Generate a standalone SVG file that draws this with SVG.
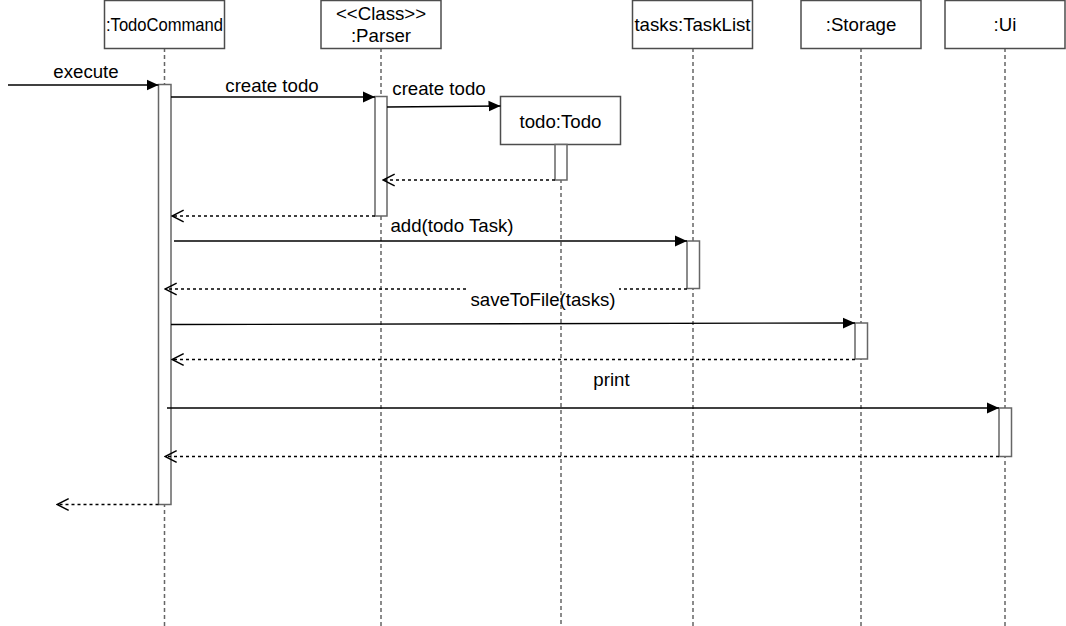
<svg xmlns="http://www.w3.org/2000/svg" width="1066" height="626" viewBox="0 0 1066 626">
<style>
  text { font-family: "Liberation Sans", Arial, Helvetica, sans-serif; font-size: 18.67px; fill: #000; }
  .box { fill: #fff; stroke: #4d4d4d; stroke-width: 1.5; }
  .bar { fill: #fff; stroke: #666; stroke-width: 1.5; }
  .life { stroke: #666; stroke-width: 1.5; stroke-dasharray: 4 3; fill: none; }
  .msg { stroke: #000; stroke-width: 1.3; fill: none; marker-end: url(#filled); }
  .ret { stroke: #000; stroke-width: 1.3; fill: none; stroke-dasharray: 3 3; }
  .reth { marker-end: url(#open); }
</style>
<defs>
  <marker id="filled" markerUnits="userSpaceOnUse" markerWidth="12" markerHeight="12" viewBox="0 0 10 9" refX="10" refY="4.5" orient="auto">
    <path d="M0,0 L10,4.5 L0,9 z" fill="#000"/>
  </marker>
  <marker id="open" markerUnits="userSpaceOnUse" markerWidth="14" markerHeight="14" viewBox="-1 -1 12 12" refX="10" refY="5" orient="auto">
    <path d="M0,0 L10,5 L0,10" fill="none" stroke="#000" stroke-width="1.3"/>
  </marker>
</defs>
<rect width="1066" height="626" fill="#fff"/>

<g id="lifelines">
  <line class="life" x1="164.5" y1="48" x2="164.5" y2="626"/>
  <line class="life" x1="381" y1="48" x2="381" y2="626"/>
  <line class="life" x1="561" y1="144" x2="561" y2="626"/>
  <line class="life" x1="693" y1="48" x2="693" y2="626"/>
  <line class="life" x1="861" y1="48" x2="861" y2="626"/>
  <line class="life" x1="1005" y1="48" x2="1005" y2="626"/>
</g>

<g id="todocommand">
  <rect class="box" x="104.5" y="0.5" width="120" height="48"/>
  <text x="164.5" y="31" text-anchor="middle" textLength="117" lengthAdjust="spacingAndGlyphs">:TodoCommand</text>
  <rect class="bar" x="158.5" y="84.5" width="12.5" height="420"/>
</g>

<g id="parser">
  <rect class="box" x="321" y="0.5" width="120" height="48"/>
  <text x="381" y="19.5" text-anchor="middle">&lt;&lt;Class&gt;&gt;</text>
  <text x="381" y="42" text-anchor="middle">:Parser</text>
  <rect class="bar" x="375" y="96.5" width="12" height="119.5"/>
</g>

<g id="todo">
  <rect class="box" x="500.5" y="96.5" width="120" height="48"/>
  <text x="560.5" y="127.5" text-anchor="middle">todo:Todo</text>
  <rect class="bar" x="555" y="144.5" width="12" height="35.5"/>
</g>

<g id="tasklist">
  <rect class="box" x="632.5" y="0.5" width="120" height="48"/>
  <text x="692.5" y="31" text-anchor="middle">tasks:TaskList</text>
  <rect class="bar" x="687" y="241" width="12.5" height="47.5"/>
</g>

<g id="storage">
  <rect class="box" x="801" y="0.5" width="120" height="48"/>
  <text x="861" y="31" text-anchor="middle">:Storage</text>
  <rect class="bar" x="855" y="323" width="12.5" height="36"/>
</g>

<g id="ui">
  <rect class="box" x="945" y="0.5" width="120" height="48"/>
  <text x="1005" y="31" text-anchor="middle">:Ui</text>
  <rect class="bar" x="999" y="408" width="12.5" height="48.5"/>
</g>

<g id="connectors">
  <line class="msg" x1="8" y1="85" x2="158.5" y2="85"/>
  <text x="86" y="78" text-anchor="middle">execute</text>

  <line class="msg" x1="171" y1="97" x2="375" y2="97"/>
  <text x="272" y="92" text-anchor="middle">create todo</text>

  <line class="msg" x1="387" y1="107" x2="500.5" y2="106"/>
  <text x="439" y="95" text-anchor="middle">create todo</text>

  <line class="ret reth" x1="555" y1="180" x2="383" y2="180"/>
  <line class="ret reth" x1="375" y1="216" x2="172" y2="216"/>

  <line class="msg" x1="174" y1="241" x2="687" y2="241"/>
  <text x="452" y="232" text-anchor="middle">add(todo Task)</text>

  <line class="ret" x1="687" y1="289" x2="619" y2="289"/>
  <line class="ret reth" x1="466" y1="289" x2="165" y2="289"/>
  <text x="543" y="306" text-anchor="middle">saveToFile(tasks)</text>

  <line class="msg" x1="171" y1="324.5" x2="855" y2="323"/>
  <line class="ret reth" x1="855" y1="359.5" x2="172" y2="359.5"/>

  <line class="msg" x1="167" y1="408" x2="999" y2="408"/>
  <text x="611.5" y="386" text-anchor="middle">print</text>

  <line class="ret reth" x1="999" y1="456.5" x2="165" y2="456.5"/>
  <line class="ret reth" x1="158.5" y1="504.5" x2="57" y2="504.5"/>
</g>
</svg>
